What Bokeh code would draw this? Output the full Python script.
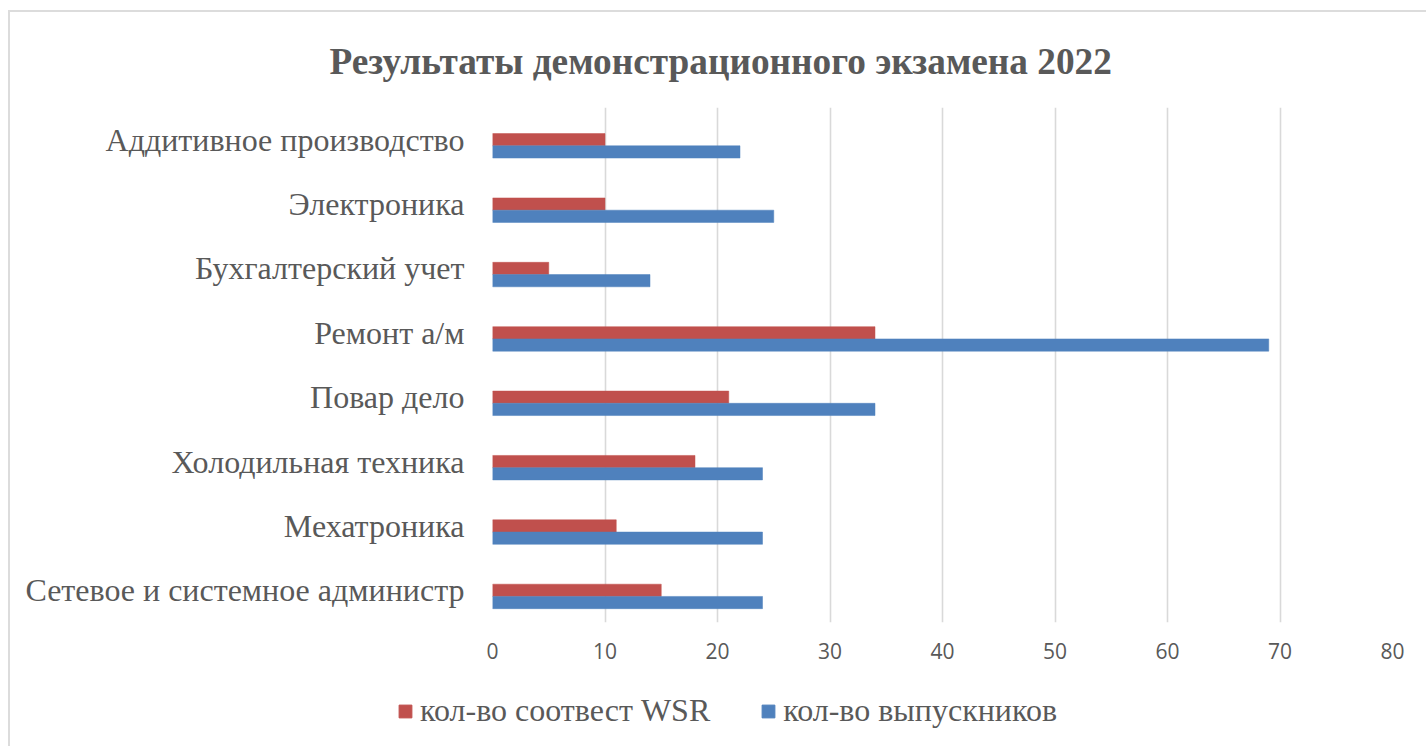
from bokeh.plotting import figure
from bokeh.models import ColumnDataSource, FixedTicker, Legend, LegendItem, Title, FactorRange
from bokeh.layouts import column, row
from bokeh.transform import dodge
from bokeh.embed import file_html
from bokeh.resources import INLINE

# ---- data (top to bottom in the picture) ----
categories = [
    "Аддитивное производство",
    "Электроника",
    "Бухгалтерский учет",
    "Ремонт а/м",
    "Повар дело",
    "Холодильная техника",
    "Мехатроника",
    "Сетевое и системное администр",
]
wsr = [10, 10, 5, 34, 21, 18, 11, 15]          # кол-во соотвест WSR
graduates = [22, 25, 14, 69, 34, 24, 24, 24]   # кол-во выпускников
x_ticks = [0, 10, 20, 30, 40, 50, 60, 70, 80]
title_text = "Результаты демонстрационного экзамена 2022"
series_names = ["кол-во соотвест WSR", "кол-во выпускников"]

RED = "#C0504D"
BLUE = "#4F81BD"
TXT = "#595959"
GRID = "#D9D9D9"
SERIF = "Liberation Serif"

src = ColumnDataSource(dict(cat=categories, wsr=wsr, grad=graduates))

p = figure(
    width=1416, height=668,
    y_range=FactorRange(*reversed(categories)),
    x_range=(0, 80),
    output_backend="svg", toolbar_location=None,
    min_border_left=482, min_border_right=34,
    min_border_top=95, min_border_bottom=58,
)

bar_h = 0.19
p.hbar(y=dodge("cat", 0.0, range=p.y_range), left=0, right="wsr", height=bar_h,
       source=src, fill_color=RED, line_color=RED, line_width=0.5)
p.hbar(y=dodge("cat", -bar_h, range=p.y_range), left=0, right="grad", height=bar_h,
       source=src, fill_color=BLUE, line_color=BLUE, line_width=0.5)

# title
t = Title(text=title_text, align="left", offset=-163, standoff=52,
          text_font=SERIF, text_font_size="37.3px", text_font_style="bold", text_color=TXT)
p.add_layout(t, "above")

# axes
p.xaxis.ticker = FixedTicker(ticks=x_ticks)
p.xaxis.axis_line_color = None
p.xaxis.major_tick_line_color = None
p.xaxis.minor_tick_line_color = None
p.xaxis.major_label_text_font = "Open Sans"
p.xaxis.major_label_text_font_size = "21px"
p.xaxis.major_label_text_color = TXT
p.xaxis.major_label_standoff = 14

p.yaxis.axis_line_color = None
p.yaxis.major_tick_line_color = None
p.yaxis.minor_tick_line_color = None
p.yaxis.major_label_text_font = SERIF
p.yaxis.major_label_text_font_size = "32px"
p.yaxis.major_label_text_color = TXT
p.yaxis.major_label_standoff = 22

p.xgrid.grid_line_color = GRID
p.xgrid.grid_line_width = 1.6
p.ygrid.grid_line_color = None
p.outline_line_color = None

# ---- legend strip (separate figure so it is not clipped) ----
lf = figure(width=1416, height=66, x_range=(0, 80), y_range=(0, 1),
            x_axis_type=None, y_axis_type=None,
            output_backend="svg", toolbar_location=None,
            min_border_left=0, min_border_right=0, min_border_top=0, min_border_bottom=0)
lf.grid.grid_line_color = None
lf.outline_line_color = None
lr_red = lf.hbar(y=0.5, left=0, right="wsr", height=0.1, source=src,
                 fill_color=RED, line_color=RED, visible=False)
lr_blue = lf.hbar(y=0.5, left=0, right="grad", height=0.1, source=src,
                  fill_color=BLUE, line_color=BLUE, visible=False)
legend = Legend(
    items=[LegendItem(label=series_names[0], renderers=[lr_red]),
           LegendItem(label=series_names[1], renderers=[lr_blue])],
    orientation="horizontal", location=(387, 17),
    label_text_font=SERIF, label_text_font_size="32px", label_text_color=TXT,
    glyph_width=16, glyph_height=16, label_standoff=7, spacing=50,
    padding=0, margin=0, border_line_color=None, background_fill_alpha=0,
    inactive_fill_alpha=0,
)
lf.add_layout(legend, "center")

layout = column(p, row(lf, spacing=0), spacing=0)
layout.styles = {"margin-left": "8px", "margin-top": "10px",
                 "border-left": "2px solid #DCDCDC", "border-top": "2px solid #DCDCDC"}

open("out.html", "w").write(file_html(layout, INLINE))
